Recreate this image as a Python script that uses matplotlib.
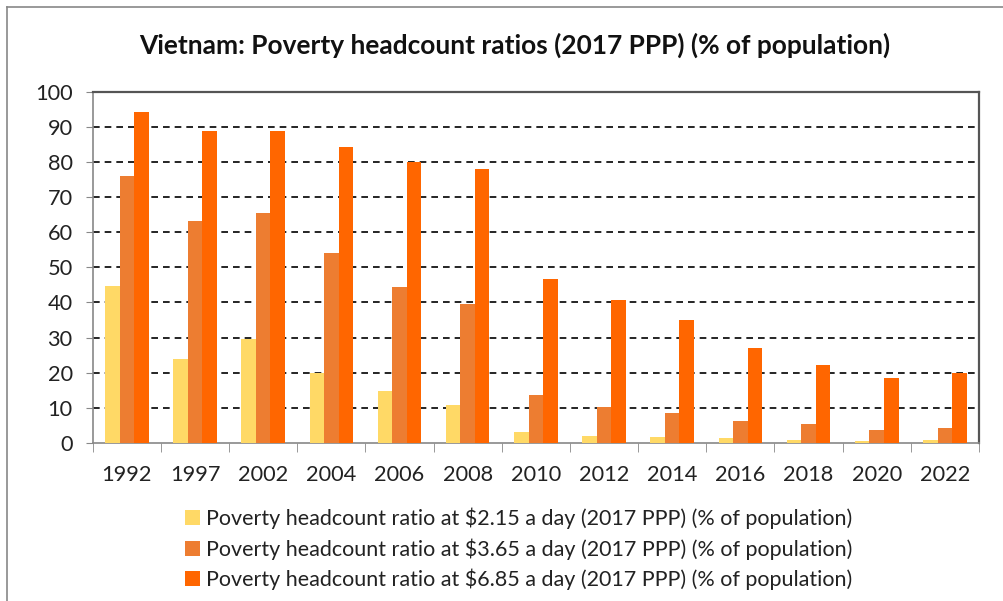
import numpy as np
import matplotlib
matplotlib.use("Agg")
import matplotlib.pyplot as plt
from matplotlib.lines import Line2D

# -----------------------------
# DATA
# -----------------------------
years = ["1992", "1997", "2002", "2004", "2006", "2008", "2010",
         "2012", "2014", "2016", "2018", "2020", "2022"]
ratio_215 = [44.8, 23.9, 29.6, 19.9, 14.9, 10.9, 3.0, 1.9, 1.8, 1.4, 0.9, 0.6, 0.9]
ratio_365 = [76.1, 63.2, 65.4, 54.1, 44.5, 39.7, 13.8, 10.2, 8.5, 6.2, 5.4, 3.8, 4.2]
ratio_685 = [94.1, 88.9, 88.9, 84.2, 79.9, 77.9, 46.7, 40.6, 34.9, 27.0, 22.2, 18.6, 19.9]
series_labels = [
    "Poverty headcount ratio at $2.15 a day (2017 PPP) (% of population)",
    "Poverty headcount ratio at $3.65 a day (2017 PPP) (% of population)",
    "Poverty headcount ratio at $6.85 a day (2017 PPP) (% of population)",
]
colors = ["#FFD966", "#ED7D31", "#FF6600"]

plt.rcParams["font.family"] = ["Lato", "DejaVu Sans"]

W, H = 1004, 601
fig = plt.figure(figsize=(W / 100, H / 100), dpi=100)

# outer frame (left and top edges)
fig.add_artist(Line2D([7 / W, 7 / W], [0, 1 - 7 / H], color="#888888", lw=1.2))
fig.add_artist(Line2D([7 / W, 1], [1 - 7 / H, 1 - 7 / H], color="#888888", lw=1.2))

left, right, top, bottom = 92.7, 979, 91.7, 443
ax = fig.add_axes([left / W, 1 - bottom / H, (right - left) / W, (bottom - top) / H])

x = np.arange(len(years))
bw = 0.213
for i, vals in enumerate([ratio_215, ratio_365, ratio_685]):
    ax.bar(x + (i - 1) * bw, vals, width=bw, color=colors[i],
           label=series_labels[i], zorder=3)

ax.set_xlim(-0.5, len(years) - 0.5)
ax.set_ylim(0, 100)

# dashed gridlines
for yv in range(10, 100, 10):
    ax.axhline(yv, color="black", lw=1.2, ls=(0, (4, 3)), zorder=1)

ax.set_yticks(range(0, 101, 10))
ax.tick_params(axis="y", length=5, color="#888888", labelsize=15.7, pad=9.4,
               labelcolor="#222222")
ax.set_xticks(x)
ax.set_xticklabels(years)
ax.set_xticks(np.arange(-0.5, len(years)), minor=True)
ax.tick_params(axis="x", which="major", length=0, labelsize=15.7, pad=16,
               labelcolor="#222222")
ax.tick_params(axis="x", which="minor", length=6.5, color="#888888")

for side in ["left", "bottom"]:
    ax.spines[side].set_color("#888888")
    ax.spines[side].set_linewidth(1.2)
for side in ["top", "right"]:
    ax.spines[side].set_color("#555555")
    ax.spines[side].set_linewidth(1.6)

fig.text(515 / W, 1 - 45 / H, "Vietnam: Poverty headcount ratios (2017 PPP) (% of population)",
         ha="center", va="center", fontsize=18.9, fontweight="bold", color="#111111")

fig.legend(loc="upper left", bbox_to_anchor=(176 / W, 1 - 499 / H), frameon=False,
           fontsize=15.5, handlelength=0.7, handleheight=0.7, handletextpad=0.3,
           labelspacing=0.42, borderaxespad=0, labelcolor="#222222")

fig.savefig("out.png", dpi=100)
